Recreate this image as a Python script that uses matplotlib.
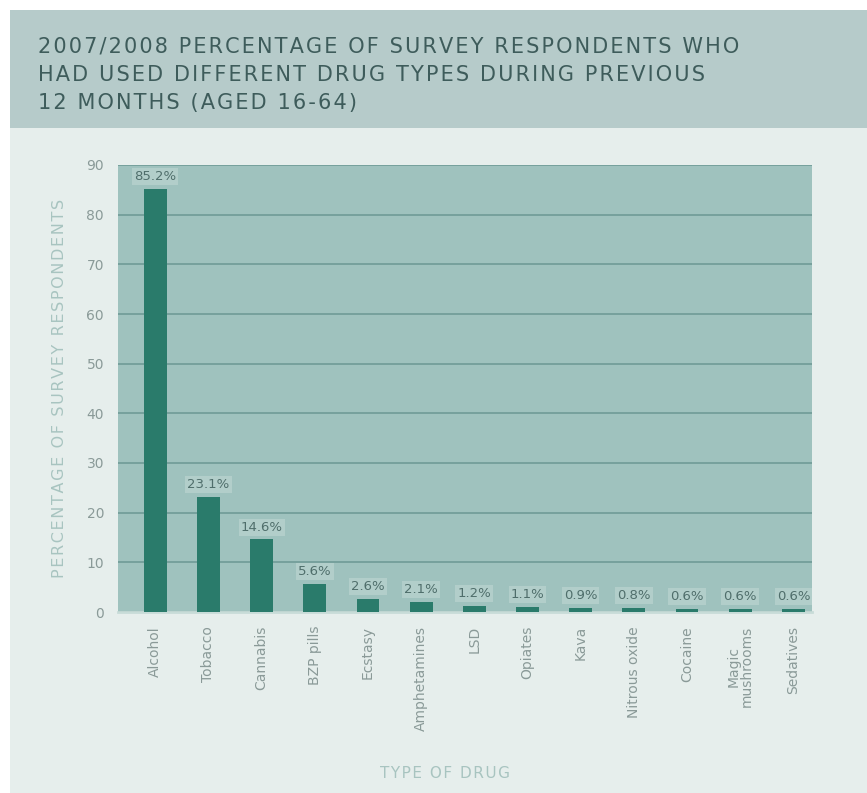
import matplotlib.pyplot as plt
from matplotlib.patches import Rectangle

drugs = ["Alcohol", "Tobacco", "Cannabis", "BZP pills", "Ecstasy", "Amphetamines",
         "LSD", "Opiates", "Kava", "Nitrous oxide", "Cocaine", "Magic\nmushrooms", "Sedatives"]
percent = [85.2, 23.1, 14.6, 5.6, 2.6, 2.1, 1.2, 1.1, 0.9, 0.8, 0.6, 0.6, 0.6]
labels = ["85.2%", "23.1%", "14.6%", "5.6%", "2.6%", "2.1%", "1.2%", "1.1%",
          "0.9%", "0.8%", "0.6%", "0.6%", "0.6%"]
yticks = list(range(0, 91, 10))

W, H = 867, 793
fig = plt.figure(figsize=(W / 100, H / 100), dpi=100)
fig.patch.set_facecolor("white")

# page background and title banner
fig.patches.append(Rectangle((10 / W, 0), 1, 1 - 128 / H, transform=fig.transFigure,
                             facecolor="#e6eeec", edgecolor="none", zorder=-10))
fig.patches.append(Rectangle((10 / W, 1 - 128 / H), 1, 118 / H, transform=fig.transFigure,
                             facecolor="#b6cbca", edgecolor="none", zorder=-10))


def spaced(s):
    # spread the letters a little, like the original tracking
    return "\u200a".join(s)


title_lines = ["2007/2008 PERCENTAGE OF SURVEY RESPONDENTS WHO",
               "HAD USED DIFFERENT DRUG TYPES DURING PREVIOUS",
               "12 MONTHS (AGED 16-64)"]
title = "\n".join(spaced(line) for line in title_lines)
fig.text(38 / W, 1 - 37 / H, title, ha="left", va="top", fontsize=15,
         color="#3e5c5b", linespacing=1.5, family="DejaVu Sans")

ax = fig.add_axes([118 / W, 1 - 612 / H, (812 - 118) / W, (612 - 165) / H])
ax.set_facecolor("#9fc2be")
x = list(range(len(drugs)))
ax.bar(x, percent, width=0.43, color="#2a7b6b", zorder=3)
ax.set_xlim(-0.7, 12.35)
ax.set_ylim(0, 90)
ax.set_yticks(yticks)
ax.yaxis.grid(True, color="#6f9b97", linewidth=1.2, zorder=1)
for s in ax.spines.values():
    s.set_visible(False)
ax.spines["bottom"].set_visible(True)
ax.spines["bottom"].set_color("#c8dcd8")
ax.spines["bottom"].set_linewidth(2)

for xi, v, lab in zip(x, percent, labels):
    ax.text(xi, v + 1.2, lab, ha="center", va="bottom", fontsize=9.5,
            color="#4f6e6b", zorder=4,
            bbox=dict(boxstyle="square,pad=0.15", facecolor="#b8d2ce",
                      edgecolor="none", alpha=0.8))

ax.set_xticks(x)
ax.set_xticklabels(drugs, rotation=90, fontsize=10, color="#8a9a98", va="top",
                   linespacing=1.0)
ax.tick_params(axis="x", length=0, pad=10)
ax.tick_params(axis="y", length=0, pad=10, labelsize=10, labelcolor="#8a9a98")

ax.set_ylabel(spaced("PERCENTAGE OF SURVEY RESPONDENTS"), fontsize=11.5,
              color="#a8c4c0", labelpad=14)
fig.text(445 / W, 1 - 773 / H, spaced("TYPE OF DRUG"), ha="center", va="center",
         fontsize=11, color="#a8c4c0")

fig.savefig("out.png", dpi=100, facecolor=fig.get_facecolor())
